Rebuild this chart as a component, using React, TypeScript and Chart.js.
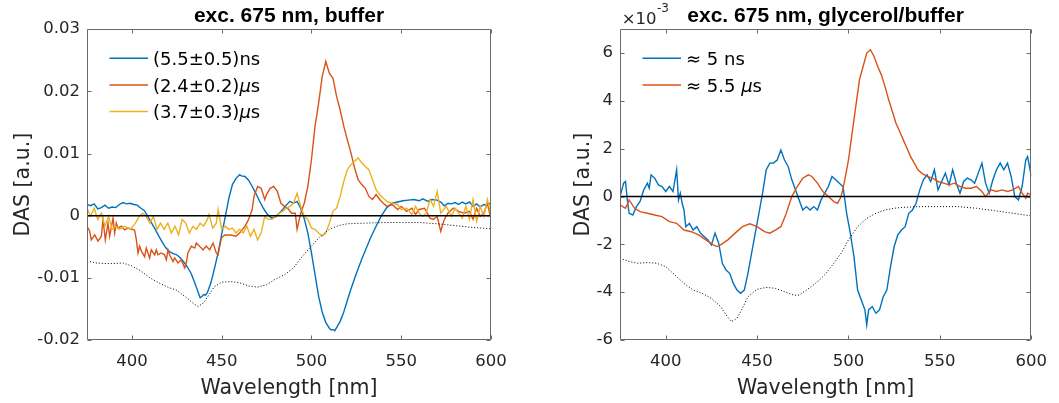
import React, { useEffect, useRef } from "react";
import { Chart, registerables } from "chart.js";

Chart.register(...registerables);

// ---------- axes ----------
const X_MIN = 375;
const X_MAX = 600;
const xTicks = [400, 450, 500, 550, 600];
const bufferYTicks = [-0.02, -0.01, 0, 0.01, 0.02, 0.03];
const glyYTicks = [-6, -4, -2, 0, 2, 4, 6]; // in units of 1e-3

// ---------- left panel: exc. 675 nm, buffer ----------
const bufferNs: [number, number][] = [
  [375, 0.0018], [377, 0.0016], [379, 0.0019], [381, 0.0011], [383, 0.0013], [385, 0.0017], [387, 0.0012],
  [389, 0.0014], [391, 0.0013], [393, 0.0018], [395, 0.0021], [397, 0.0019], [399, 0.002], [401, 0.0018],
  [403, 0.0017], [405, 0.0012], [407, 0.0008], [409, -0.0002], [411, -0.0012], [413, -0.0022], [415, -0.0033],
  [417, -0.0043], [419, -0.0052], [421, -0.0058], [423, -0.0061], [425, -0.0063], [427, -0.0068], [429, -0.0075],
  [431, -0.0083], [433, -0.0093], [435, -0.0108], [437, -0.0124], [438, -0.0132], [439, -0.013], [440, -0.0127],
  [441, -0.0128], [442, -0.0124], [444, -0.0108], [446, -0.0085], [448, -0.006], [450, -0.003], [452, -0.0002],
  [454, 0.0028], [456, 0.005], [458, 0.006], [460, 0.0066], [461, 0.0064], [463, 0.0063], [465, 0.0057],
  [467, 0.0047], [469, 0.0036], [471, 0.0024], [473, 0.0013], [475, 0.0004], [477, -0.0002], [478, -0.0004],
  [480, -0.0002], [482, 0.0004], [484, 0.001], [486, 0.0017], [488, 0.0023], [490, 0.002], [492, 0.0023],
  [494, 0.0012], [496, -0.0005], [498, -0.0028], [500, -0.006], [502, -0.0095], [504, -0.013], [506, -0.0155],
  [508, -0.0172], [510, -0.0181], [511, -0.0184], [512, -0.0183], [513, -0.0185], [514, -0.018], [516, -0.017],
  [518, -0.0155], [520, -0.0136], [522, -0.0118], [525, -0.0093], [528, -0.007], [530, -0.0056], [533, -0.0035],
  [536, -0.0017], [539, 0.0], [542, 0.0013], [545, 0.002], [548, 0.0022], [551, 0.0024], [554, 0.0025],
  [557, 0.0026], [560, 0.0024], [562, 0.0027], [565, 0.0023], [567, 0.0026], [570, 0.0025], [572, 0.0022],
  [574, 0.0016], [576, 0.002], [578, 0.0019], [580, 0.0021], [582, 0.0018], [584, 0.0022], [586, 0.0019],
  [588, 0.0022], [590, 0.0015], [592, 0.0019], [594, 0.0014], [596, 0.0018], [598, 0.0017], [600, 0.0021],
];

const bufferUs24: [number, number][] = [
  [375, -0.0017], [376.5, -0.0025], [377.4, -0.0039], [379.3, -0.0031], [381.1, -0.0041], [383, -0.0033],
  [383.9, -0.0006], [385.2, -0.0039], [386.7, -0.0012], [387.6, -0.0033], [389.5, -0.0004], [390.4, -0.0028],
  [391.3, -0.0012], [392.3, -0.002], [394.1, -0.0017], [396, -0.0023], [397.8, -0.002], [401.5, -0.0023],
  [402.5, -0.0039], [403.4, -0.006], [404.3, -0.0049], [405.3, -0.0057], [407.1, -0.0066], [408, -0.0052],
  [409.9, -0.0068], [410.8, -0.0055], [412.7, -0.0063], [413.6, -0.0055], [414.5, -0.0063], [416.4, -0.006],
  [418.2, -0.0063], [419.2, -0.0071], [420.1, -0.0055], [421, -0.0063], [422.9, -0.0074], [423.8, -0.0068],
  [425.7, -0.0076], [427.5, -0.0071], [429.4, -0.0084], [430.3, -0.0076], [431.2, -0.006], [433.1, -0.0049],
  [435, -0.0052], [435.9, -0.0044], [437.7, -0.0049], [439.6, -0.0055], [441.4, -0.0049], [443.3, -0.0055],
  [445.2, -0.0044], [447, -0.006], [448, -0.0063], [449.8, -0.0036], [451.7, -0.0031],
  [455, -0.0031], [458, -0.0033], [460, -0.0028], [463, -0.0017],
  [465, -0.0006], [467, 0.001], [468, 0.0031], [470, 0.0047], [472, 0.0044], [474, 0.0026], [475, 0.0034],
  [477, 0.0044], [479, 0.0047], [481, 0.0039], [483, 0.002], [485, 0.0015], [487, 0.0011], [489, 0.0004],
  [491, 0.0004], [492, -0.0022], [494, 0.0004], [496, 0.002], [498, 0.0047], [500, 0.009], [502, 0.0144],
  [504, 0.0181], [506, 0.0224], [508, 0.0248], [510, 0.0229], [512, 0.0221], [514, 0.0192], [516, 0.017],
  [518, 0.0144], [520, 0.0122], [522, 0.0101], [524, 0.0077], [526, 0.0058], [528, 0.005], [530, 0.0044],
  [532, 0.0031], [534, 0.0026], [536, 0.0034], [538, 0.0026], [540, 0.002], [542, 0.0015], [545, 0.0018],
  [548, 0.001], [550, 0.0015], [553, 0.0007], [556, 0.0012], [558, 0.0002], [560, 0.001], [563, 0.0012],
  [566, -0.0004], [568, -0.0006], [570, -0.0001], [572, -0.0025], [574, -0.0006], [576, 0.0004], [579, 0.0012],
  [582, 0.0007], [585, 0.0004], [588, 0.0007], [590, -0.0006], [592, 0.0012], [594, -0.0001], [596, 0.0004],
  [598, 0.002], [600, -0.0006],
];

const bufferUs37: [number, number][] = [
  [375, 0.0012], [377, -0.0001], [379, 0.0012], [381, -0.0006], [383, 0.0004], [385, -0.0017], [387, -0.0001],
  [389, -0.0022], [391, -0.0017], [393, -0.0022], [396, -0.0017], [399, -0.0022], [402, -0.0012], [404, -0.0001],
  [406, 0.0004], [408, -0.0001], [410, -0.0012], [412, -0.0001], [414, -0.0022], [416, -0.0012], [418, -0.0022],
  [420, -0.0012], [422, -0.0028], [424, -0.0017], [426, -0.0031], [428, -0.0006], [430, -0.0012], [432, -0.0028],
  [434, -0.0017], [436, -0.0022], [438, -0.0012], [440, -0.0017], [442, -0.0006], [443, 0.0002], [445, -0.002],
  [447, -0.0012], [448, 0.001], [450, -0.0022], [452, -0.0017], [454, -0.0022], [456, -0.002], [458, -0.0028],
  [460, -0.0022], [462, -0.0028], [464, -0.0017], [466, -0.0033], [468, -0.0022], [470, -0.0039], [472, -0.0028],
  [474, -0.0001], [476, -0.0006], [478, -0.0006], [480, -0.0001], [482, 0.0004], [484, 0.0007], [486, 0.0012],
  [488, 0.0015], [490, 0.002], [492, 0.0036], [494, 0.0015], [496, -0.0001], [498, -0.0006], [500, -0.002],
  [502, -0.0022], [504, -0.0028], [506, -0.0033], [508, -0.0028], [510, -0.0012], [512, 0.0007], [514, 0.0012],
  [516, 0.0031], [518, 0.0055], [520, 0.0074], [522, 0.0082], [524, 0.0087], [526, 0.0093], [528, 0.0085],
  [530, 0.0079], [532, 0.0074], [534, 0.0058], [536, 0.0042], [538, 0.0034], [540, 0.0028], [542, 0.0023],
  [545, 0.002], [548, 0.0018], [550, 0.001], [553, 0.0012], [556, 0.0002], [558, 0.0015], [560, 0.0004],
  [562, -0.0001], [564, 0.0004], [566, 0.0026], [568, 0.0015], [570, 0.0039], [572, 0.0004], [575, 0.0015],
  [578, -0.0001], [580, 0.0012], [582, 0.0004], [584, -0.0004], [586, 0.0015], [588, -0.0006], [590, 0.0026],
  [592, -0.0009], [594, 0.0015], [596, -0.0001], [598, 0.0026], [600, 0.0002],
];

const bufferAbs: [number, number][] = [
  [375, -0.0073], [380, -0.0076], [385, -0.0077], [390, -0.0077], [395, -0.0076], [400, -0.0081], [405, -0.0089],
  [410, -0.01], [415, -0.0108], [420, -0.0115], [425, -0.012], [430, -0.0131], [435, -0.0143], [437, -0.0146],
  [440, -0.014], [443, -0.0127], [446, -0.0114], [450, -0.0107], [455, -0.0106], [460, -0.0108], [465, -0.0113],
  [470, -0.0115], [475, -0.0111], [480, -0.0102], [485, -0.0095], [490, -0.0084], [495, -0.0065], [500, -0.0049],
  [505, -0.0033], [510, -0.0022], [515, -0.0016], [520, -0.0013], [530, -0.0012], [540, -0.0011], [550, -0.0011],
  [560, -0.0011], [570, -0.0013], [580, -0.0016], [590, -0.0019], [600, -0.0021],
];

// ---------- right panel: exc. 675 nm, glycerol/buffer (values x 1e-3) ----------
const gly5ns: [number, number][] = [
  [375, 0], [377, 0.56], [378, 0.63], [379, -0.14], [380, -0.7], [382, -0.77], [384, -0.42], [386, -0.2],
  [388, 0.28], [390, 0.56], [391, 0.35], [392, 0.91], [394, 0.77], [396, 0.49], [398, 0.42], [400, 0.21],
  [402, 0.42], [404, 0.21], [406, 1.12], [407, -0.14], [408, 0.14], [409, -0.28], [410, -0.56], [411, -1.26],
  [413, -1.12], [415, -1.4], [417, -1.26], [419, -1.53], [421, -1.67], [423, -1.81], [425, -2.02], [427, -1.53],
  [429, -1.95], [431, -2.79], [433, -3.07], [435, -3.21], [437, -3.63], [439, -3.91], [441, -4.05], [443, -3.91],
  [445, -3.21], [447, -2.37], [449, -1.53], [451, -0.7], [453, 0.14], [455, 1.12], [457, 1.4], [459, 1.4],
  [461, 1.53], [463, 1.95], [465, 1.53], [467, 1.26], [469, 0.7], [471, 0.28], [473, -0.14], [475, -0.56],
  [477, -0.42], [479, -0.56], [481, -0.42], [483, -0.56], [485, -0.14], [487, 0.14], [489, 0.42], [491, 0.84],
  [493, 0.7], [495, 0.56], [497, 0.42], [499, -0.7], [501, -1.53], [503, -2.51], [505, -3.91], [507, -4.33],
  [509, -4.74], [510, -5.37], [511, -4.74], [513, -4.6], [515, -4.88], [517, -4.74], [519, -4.19], [521, -3.91],
  [523, -2.93], [525, -2.09], [527, -1.6], [529, -1.4], [531, -1.26], [533, -0.7], [535, -0.56], [537, -0.28],
  [539, 0.28], [541, 0.7], [543, 0.91], [545, 0.63], [547, 1.12], [549, 0.28], [551, 0.63], [553, 0.98],
  [555, 0.49], [557, 1.12], [559, 0.56], [561, 0.14], [563, 0.63], [565, 0.77], [567, 0.7], [569, 0.56],
  [571, 0.98], [573, 1.4], [575, 0.56], [577, 0.14], [579, 0.7], [581, 1.12], [583, 1.4], [585, 1.12],
  [587, 1.4], [589, 0.84], [591, 0], [593, -0.14], [595, 0.42], [597, 1.53], [598, 1.67], [599, 1.26], [600, 0.84],
];

const gly55us: [number, number][] = [
  [375, -0.35], [378, -0.49], [380, -0.14], [383, -0.49], [386, -0.63], [390, -0.7], [394, -0.77], [398, -0.84],
  [402, -1.05], [406, -1.12], [410, -1.4], [414, -1.47], [418, -1.6], [422, -1.81], [426, -2.02], [428, -2.09],
  [430, -2.02], [434, -1.81], [438, -1.53], [442, -1.26], [446, -1.14], [450, -1.26], [454, -1.47], [457, -1.53],
  [460, -1.4], [463, -1.26], [466, -0.7], [469, 0], [472, 0.42], [475, 0.77], [478, 0.91], [480, 0.84],
  [483, 0.56], [486, 0.21], [489, 0], [492, -0.21], [494, -0.28], [496, 0], [498, 0.7], [500, 1.53],
  [502, 2.65], [504, 3.77], [506, 4.88], [508, 5.44], [510, 6.0], [512, 6.14], [514, 5.86], [516, 5.44],
  [518, 5.09], [520, 4.6], [522, 4.05], [524, 3.56], [526, 3.07], [528, 2.72], [530, 2.37], [532, 2.02],
  [534, 1.67], [536, 1.4], [538, 1.12], [540, 0.98], [543, 0.84], [546, 0.77], [549, 0.63], [552, 0.56],
  [555, 0.49], [558, 0.56], [561, 0.42], [564, 0.35], [567, 0.35], [570, 0.42], [573, 0.21], [575, 0],
  [578, 0.28], [581, 0.21], [584, 0.28], [587, 0.21], [590, 0.28], [593, 0.42], [595, 0.14], [597, -0.07],
  [598, 0.14], [600, 0.07],
];

const glyAbs: [number, number][] = [
  [375, -2.58], [380, -2.72], [385, -2.79], [390, -2.76], [395, -2.79], [400, -2.93], [405, -3.28], [410, -3.63],
  [415, -3.91], [420, -4.05], [425, -4.26], [430, -4.6], [433, -4.95], [436, -5.23], [439, -5.09], [442, -4.67],
  [445, -4.19], [450, -3.88], [455, -3.8], [460, -3.84], [465, -3.98], [470, -4.12], [473, -4.12], [477, -3.91],
  [482, -3.63], [487, -3.28], [492, -2.79], [496, -2.37], [500, -1.81], [505, -1.26], [510, -0.91], [515, -0.7],
  [520, -0.56], [525, -0.49], [530, -0.45], [540, -0.42], [550, -0.42], [560, -0.42], [570, -0.49], [580, -0.59],
  [590, -0.7], [600, -0.81],
];

const zeroLine: [number, number][] = [[X_MIN, 0], [X_MAX, 0]];

// ---------- styles ----------
const BLUE = "#0072BD";
const ORANGE = "#D95319";
const YELLOW = "#EDB120";
const AXIS = "#262626";
const SANS = "'DejaVu Sans', sans-serif";
const TITLE_FONT = "'Liberation Sans', Arial, sans-serif";
const LW = 1.4;

type Series = { label: string | null; data: [number, number][]; color: string; width: number; dash?: number[]; order: number };

type PanelSpec = {
  title: string;
  series: Series[];
  yMin: number;
  yMax: number;
  yTicks: number[];
  yFmt: (v: number) => string;
  yWidth: number;
  yTitlePad: number;
  padRight: number;
  exponent: string | null;
};

const leftSpec: PanelSpec = {
  title: "exc. 675 nm, buffer",
  series: [
    { label: "(5.5±0.5)ns", data: bufferNs, color: BLUE, width: LW, order: 4 },
    { label: "(2.4±0.2)μs", data: bufferUs24, color: ORANGE, width: LW, order: 3 },
    { label: "(3.7±0.3)μs", data: bufferUs37, color: YELLOW, width: LW, order: 2 },
    { label: null, data: zeroLine, color: "#000", width: 1.6, order: 0 },
    { label: null, data: bufferAbs, color: "#000", width: 1, dash: [1, 2], order: 1 },
  ],
  yMin: -0.02,
  yMax: 0.03,
  yTicks: bufferYTicks,
  yFmt: (v) => (Math.abs(v) < 1e-12 ? "0" : String(Math.round(v * 100) / 100)),
  yWidth: 87,
  yTitlePad: 11,
  padRight: 39,
  exponent: null,
};

const rightSpec: PanelSpec = {
  title: "exc. 675 nm, glycerol/buffer",
  series: [
    { label: "≈ 5 ns", data: gly5ns, color: BLUE, width: LW, order: 3 },
    { label: "≈ 5.5 μs", data: gly55us, color: ORANGE, width: LW, order: 2 },
    { label: null, data: zeroLine, color: "#000", width: 1.6, order: 0 },
    { label: null, data: glyAbs, color: "#000", width: 1, dash: [1, 2], order: 1 },
  ],
  yMin: -6,
  yMax: 7,
  yTicks: glyYTicks,
  yFmt: (v) => String(Math.round(v)),
  yWidth: 90,
  yTitlePad: 41,
  padRight: 27,
  exponent: "-3",
};

// draws MATLAB-style box, inward ticks, legend and exponent label
const matlabPlugin = {
  id: "matlabBox",
  afterDatasetsDraw(chart: any, _args: any, opts: any) {
    const { ctx, chartArea, scales } = chart;
    const { left, right, top, bottom } = chartArea;
    const xs = scales.x;
    const ys = scales.y;
    ctx.save();
    // box
    ctx.strokeStyle = "#6a6a6a";
    ctx.lineWidth = 1;
    const L = Math.round(left) + 0.5;
    const R = Math.round(right) - 0.5;
    const T = Math.round(top) + 0.5;
    const B = Math.round(bottom) - 0.5;
    ctx.beginPath();
    ctx.rect(L, T, R - L, B - T);
    ctx.stroke();
    // ticks inward
    const tl = 4;
    ctx.beginPath();
    xs.ticks.forEach((t: any) => {
      const px = Math.round(xs.getPixelForValue(t.value)) + 0.5;
      ctx.moveTo(px, B);
      ctx.lineTo(px, B - tl);
      ctx.moveTo(px, T);
      ctx.lineTo(px, T + tl);
    });
    ys.ticks.forEach((t: any) => {
      const py = Math.round(ys.getPixelForValue(t.value)) + 0.5;
      ctx.moveTo(L, py);
      ctx.lineTo(L + tl, py);
      ctx.moveTo(R, py);
      ctx.lineTo(R - tl, py);
    });
    ctx.stroke();

    // legend
    const ds = chart.data.datasets.filter((d: any) => d.showInLegend);
    const fontPx = 18;
    ds.forEach((d: any, i: number) => {
      const y = top + 29 + i * 26.7;
      ctx.strokeStyle = d.borderColor;
      ctx.lineWidth = 1.5;
      ctx.beginPath();
      ctx.moveTo(left + 22.5, y);
      ctx.lineTo(left + 61, y);
      ctx.stroke();
      let x = left + 66;
      ctx.fillStyle = "#000";
      ctx.textBaseline = "middle";
      ctx.textAlign = "left";
      const parts = String(d.label).split(/(μ)/);
      parts.forEach((p: string) => {
        if (!p) return;
        ctx.font = (p === "μ" ? "italic " : "") + fontPx + "px " + SANS;
        ctx.fillText(p, x, y + 2);
        x += ctx.measureText(p).width;
      });
    });

    // exponent
    if (opts && opts.exponent) {
      ctx.fillStyle = AXIS;
      ctx.textBaseline = "alphabetic";
      ctx.textAlign = "left";
      ctx.font = "16.5px " + SANS;
      const bx = left + 1.7;
      ctx.fillText("×10", bx, 24);
      const w = ctx.measureText("×10").width;
      ctx.font = "12px " + SANS;
      ctx.fillText(opts.exponent, bx + w + 0.5, 12);
    }
    ctx.restore();
  },
};

function makeChart(canvas: HTMLCanvasElement, spec: PanelSpec) {
  const tickFont = { family: SANS, size: 16.5, lineHeight: 1.2 };
  const labelFont = { family: SANS, size: 20.5, lineHeight: 1.2 };
  return new Chart(canvas, {
    type: "line",
    data: {
      datasets: spec.series.map((s) => ({
        label: s.label ?? "",
        showInLegend: !!s.label,
        data: s.data.map(([x, y]) => ({ x, y })),
        borderColor: s.color,
        backgroundColor: s.color,
        borderWidth: s.width,
        borderDash: s.dash ?? [],
        pointRadius: 0,
        tension: 0,
        fill: false,
        order: s.order,
      })) as any,
    },
    options: {
      responsive: false,
      animation: false,
      events: [],
      layout: { padding: { left: 0, right: spec.padRight, top: 0, bottom: 0 } },
      plugins: {
        legend: { display: false },
        tooltip: { enabled: false },
        title: {
          display: true,
          text: spec.title,
          fullSize: false,
          color: "#000",
          font: { family: TITLE_FONT, size: 21, weight: "bold", lineHeight: 1.2 },
          padding: { top: 4, bottom: 0 },
        },
        matlabBox: { exponent: spec.exponent },
      } as any,
      scales: {
        x: {
          type: "linear",
          min: X_MIN,
          max: X_MAX,
          afterBuildTicks: (s: any) => {
            s.ticks = xTicks.map((v) => ({ value: v }));
          },
          afterFit: (s: any) => {
            s.height = 63;
          },
          grid: { display: false, drawTicks: false, tickLength: 0 },
          border: { display: false },
          ticks: { font: tickFont, color: AXIS, padding: 12, maxRotation: 0, autoSkip: false },
          title: {
            display: true,
            text: "Wavelength [nm]",
            font: labelFont,
            color: AXIS,
            padding: { top: 0, bottom: 2 },
          },
        },
        y: {
          type: "linear",
          min: spec.yMin,
          max: spec.yMax,
          afterBuildTicks: (s: any) => {
            s.ticks = spec.yTicks.map((v) => ({ value: v }));
          },
          afterFit: (s: any) => {
            s.width = spec.yWidth;
          },
          grid: { display: false, drawTicks: false, tickLength: 0 },
          border: { display: false },
          ticks: {
            font: tickFont,
            color: AXIS,
            padding: 7,
            autoSkip: false,
            callback: (v: any) => spec.yFmt(Number(v)),
          },
          title: {
            display: true,
            text: "DAS [a.u.]",
            font: labelFont,
            color: AXIS,
            padding: { top: spec.yTitlePad, bottom: 0 },
          },
        },
      } as any,
    },
    plugins: [matlabPlugin as any],
  });
}

export default function App() {
  const leftRef = useRef<HTMLCanvasElement>(null);
  const rightRef = useRef<HTMLCanvasElement>(null);
  useEffect(() => {
    const a = makeChart(leftRef.current!, leftSpec);
    const b = makeChart(rightRef.current!, rightSpec);
    return () => {
      a.destroy();
      b.destroy();
    };
  }, []);
  return (
    <div style={{ position: "fixed", left: 0, top: 0, width: 1059, height: 403, background: "#fff" }}>
      <canvas
        ref={leftRef}
        width={530}
        height={403}
        style={{ position: "absolute", left: 0, top: 0, width: 530, height: 403 }}
      />
      <canvas
        ref={rightRef}
        width={529}
        height={403}
        style={{ position: "absolute", left: 530, top: 0, width: 529, height: 403 }}
      />
    </div>
  );
}
